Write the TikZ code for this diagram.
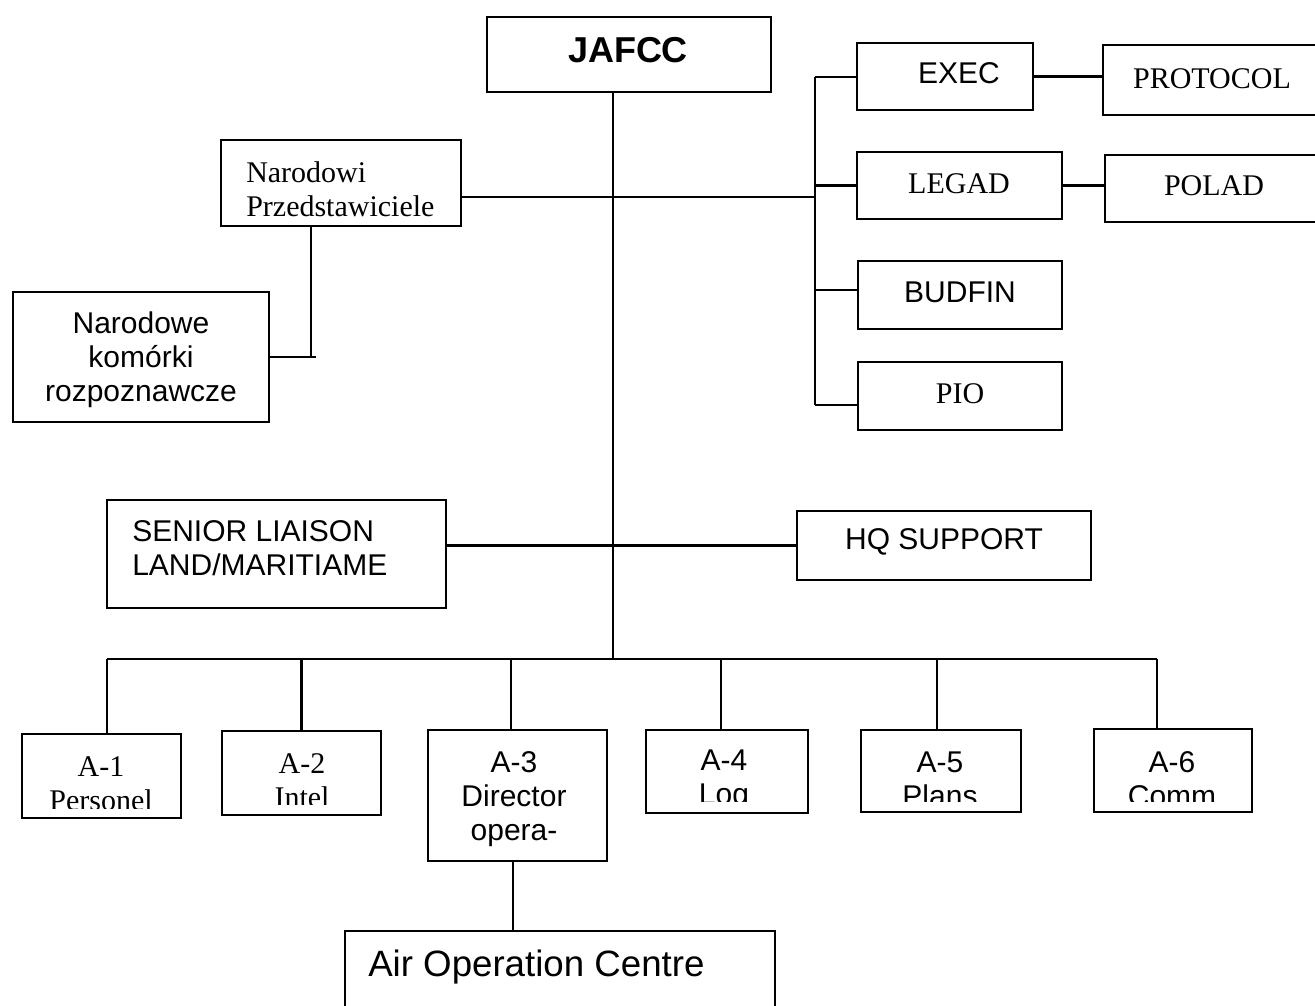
\documentclass[tikz,border=0pt]{standalone}
\usepackage{fontspec}
\setmainfont{Liberation Serif}
\setsansfont{Liberation Sans}
\begin{document}
\begin{tikzpicture}[x=0.75pt,y=-0.75pt,
  box/.style 2 args={draw,line width=1.6pt,minimum width=#1*0.75pt,minimum height=#2*0.75pt,inner sep=0pt},
  link/.style={line width=1.6pt},
  rmtxt/.style={font=\fontsize{22.5}{25.5}\selectfont\rmfamily,inner sep=0pt},
  sftxt/.style={font=\fontsize{22.5}{25.5}\selectfont\sffamily,inner sep=0pt}]
\clip (0,0) rectangle (1315,1006);
\fill[white] (0,0) rectangle (1315,1006);

% ---- boxes ----
\node[box={284}{75}] (jafcc) at (629,54.5) {};
\node[box={240}{86}] (narp) at (341,183) {};
\node[box={256}{130}] (nark) at (141,357) {};
\node[box={176}{67}] (exec) at (945,76.5) {};
\node[box={240}{70}] (protocol) at (1223,80) {};
\node[box={205}{67}] (legad) at (959.5,185.5) {};
\node[box={224}{67}] (polad) at (1217,188.5) {};
\node[box={204}{68}] (budfin) at (960,295) {};
\node[box={204}{68}] (pio) at (960,396) {};
\node[box={339}{108}] (senior) at (276.5,554) {};
\node[box={294}{69}] (hq) at (944,545.5) {};
\node[box={159}{84}] (a1) at (101.5,776) {};
\node[box={159}{84}] (a2) at (301.5,773) {};
\node[box={179}{131}] (a3) at (517.5,795.5) {};
\node[box={162}{83}] (a4) at (727,771.5) {};
\node[box={160}{82}] (a5) at (941,771) {};
\node[box={158}{83}] (a6) at (1173,770.5) {};
\node[box={430}{110}] (aoc) at (560,986) {};

% ---- labels ----
\node[font=\fontsize{27}{30}\selectfont\sffamily\bfseries,inner sep=0pt] (jafccT) at (628,50) {JAFCC};
\node[rmtxt,align=left,anchor=west] (narpT) at (246,189) {Narodowi\\Przedstawiciele};
\node[sftxt,align=center] (narkT) at (141,360) {Narodowe\\komórki\\rozpoznawcze};
\node[sftxt] (execT) at (959,73) {EXEC};
\node[rmtxt] (protocolT) at (1212,79) {PROTOCOL};
\node[rmtxt] (legadT) at (959,184) {LEGAD};
\node[rmtxt] (poladT) at (1214,186) {POLAD};
\node[sftxt] (budfinT) at (960,292) {BUDFIN};
\node[rmtxt] (pioT) at (960,394) {PIO};
\node[sftxt,align=left,anchor=west] (seniorT) at (132,548) {SENIOR LIAISON\\LAND/MARITIAME};
\node[sftxt] (hqT) at (944,542) {HQ SUPPORT};
\node[font=\fontsize{27.5}{30}\selectfont\sffamily,inner sep=0pt,anchor=west] (aocT) at (368,967) {Air Operation Centre};

% bottom row: second lines are cut off by the text frame
\begin{scope}
  \clip (a1.north west) rectangle ([yshift=8.25pt]a1.south east);
  \node[rmtxt,align=center] (a1T) at (101,784) {A-1\\Personel};
\end{scope}
\begin{scope}
  \clip (a2.north west) rectangle ([yshift=9pt]a2.south east);
  \node[rmtxt,align=center] (a2T) at (302,781) {A-2\\Intel};
\end{scope}
\node[sftxt,align=center] (a3T) at (514,799) {A-3\\Director\\opera-};
\begin{scope}
  \clip (a4.north west) rectangle ([yshift=9.75pt]a4.south east);
  \node[sftxt,align=center] (a4T) at (724,780) {A-4\\Log};
\end{scope}
\begin{scope}
  \clip (a5.north west) rectangle ([yshift=9pt]a5.south east);
  \node[sftxt,align=center] (a5T) at (940,779) {A-5\\Plans};
\end{scope}
\begin{scope}
  \clip (a6.north west) rectangle ([yshift=9pt]a6.south east);
  \node[sftxt,align=center] (a6T) at (1172,779) {A-6\\Comm};
\end{scope}

% ---- connectors ----
\coordinate (trunk) at (613,659);
\coordinate (busL) at (107,659);
\coordinate (busR) at (1157,659);
\coordinate (brkT) at (815,77);
\coordinate (brkB) at (815,405);
\coordinate (nj) at (815,197);
\coordinate (nc) at (311,357);

\draw[link] (jafcc.south -| trunk) -- (trunk);
\draw[link] (busL) -- (busR);
\draw[link] (busL) -- (busL |- a1.north);
\draw[link] (a2.north |- busL) -- (a2.north);
\draw[link] ([xshift=-4.9pt]a3.north |- busL) -- ([xshift=-4.9pt]a3.north);
\draw[link] ([xshift=-4.5pt]a4.north |- busL) -- ([xshift=-4.5pt]a4.north);
\draw[link] ([xshift=-3pt]a5.north |- busL) -- ([xshift=-3pt]a5.north);
\draw[link] (busR) -- (busR |- a6.north);
\draw[link] ([xshift=-3.4pt]a3.south) -- ([xshift=-3.4pt]a3.south |- aoc.north);

\draw[link] (hq.west -| senior.east) -- (hq.west);

\draw[link] (narp.east |- nj) -- (nj);
\draw[link] (brkT) -- (brkB);
\draw[link] (brkT) -- (exec.west |- brkT);
\draw[link] (legad.west -| brkT) -- (legad.west);
\draw[link] ([yshift=3.75pt]budfin.west -| brkT) -- ([yshift=3.75pt]budfin.west);
\draw[link] (brkB) -- (pio.west |- brkB);
\draw[link] (exec.east) -- (exec.east -| protocol.west);
\draw[link] (legad.east) -- (legad.east -| polad.west);

\draw[link] (narp.south -| nc) -- (nc);
\draw[link] (nark.east) -- ([xshift=3.75pt]nc);
\end{tikzpicture}
\end{document}
